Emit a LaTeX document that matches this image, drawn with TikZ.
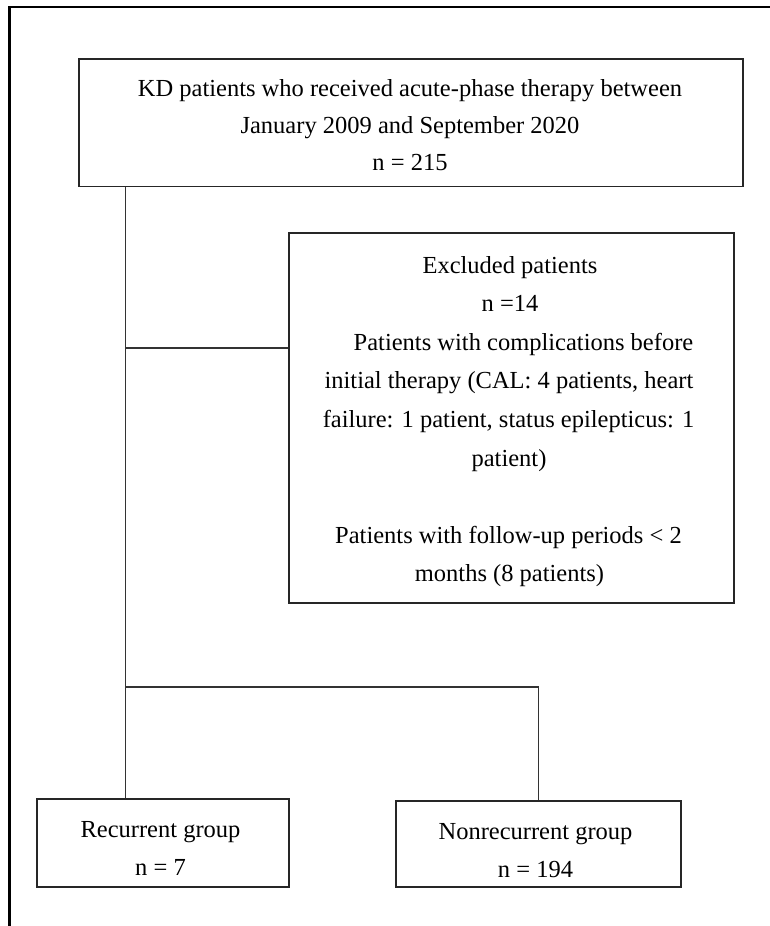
\documentclass[tikz,border=0pt]{standalone}
\usepackage{fontspec}
\setmainfont{Liberation Serif}
\begin{document}
\begin{tikzpicture}[x=1pt,y=-1pt,
  boxnode/.style={draw=black!85, line width=1.8pt, rectangle, inner sep=0pt, fill=white},
  conn/.style={draw=black!80, line width=1.6pt},
  frame/.style={draw=black, line width=2.2pt},
  txt/.style={anchor=base, inner sep=0pt, font=\fontsize{24.5}{30}\selectfont}]
\useasboundingbox (0,0) rectangle (770,926);
% outer frame
\coordinate (fb) at (9.5,926);
\coordinate (fc) at (9.5,7);
\coordinate (fr) at (770,7);
\draw[frame] (fb) -- (fc) -- (fr);
% boxes
\node[boxnode, minimum width=664pt, minimum height=127.5pt] (top) at (411,122.75) {};
\node[boxnode, minimum width=445pt, minimum height=370pt] (excl) at (511.5,418) {};
\node[boxnode, minimum width=252pt, minimum height=88pt] (rec) at (163,843) {};
\node[boxnode, minimum width=285pt, minimum height=86pt] (non) at (538.5,844) {};
% texts
\node[txt] (t1) at (410,96.7) {KD patients who received acute-phase therapy between};
\node[txt] (t2) at (410,133.3) {January 2009 and September 2020};
\node[txt] (t3) at (410,170) {n = 215};
\node[txt] (e1) at (510,273) {Excluded patients};
\node[txt] (e2) at (510,311) {n =14};
\node[txt] (e3) at (523.5,350) {Patients with complications before};
\node[txt] (e4) at (509,388.5) {initial therapy (CAL: 4 patients, heart};
\node[txt] (e5) at (508.5,427) {failure: 1 patient, status epilepticus: 1};
\node[txt] (e6) at (509,466) {patient)};
\node[txt] (e7) at (508.5,543) {Patients with follow-up periods < 2};
\node[txt] (e8) at (509.5,581.5) {months (8 patients)};
\node[txt] (r1) at (160.5,837) {Recurrent group};
\node[txt] (r2) at (160.5,875) {n = 7};
\node[txt] (n1) at (535.5,839) {Nonrecurrent group};
\node[txt] (n2) at (535.5,877) {n = 194};
% connectors
\coordinate (j1) at (125.5,348);
\coordinate (j2) at (125.5,687);
\coordinate (j3) at (538.5,687);
\draw[conn] (top.south -| j1) -- (j1) -- (j2) -- (j2 |- rec.north);
\draw[conn] (j1) -- (j1 -| excl.west);
\draw[conn] (j2) -- (j3) -- (non.north);
\end{tikzpicture}
\end{document}
